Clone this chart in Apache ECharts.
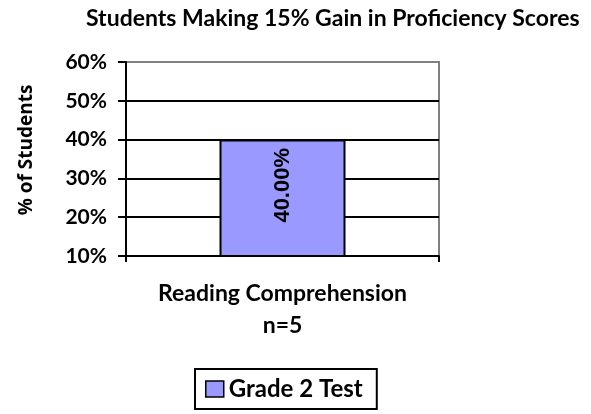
<!DOCTYPE html>
<html>
<head>
<meta charset="utf-8">
<script src="https://cdn.jsdelivr.net/npm/echarts@6/dist/echarts.min.js"></script>
<style>
html,body{margin:0;padding:0;background:#fff}
#main{width:591px;height:414px}
</style>
</head>
<body>
<div id="main"></div>
<script>
var categories=['Reading Comprehension'];
var sampleSize=['n=5'];
var seriesName='Grade 2 Test';
var values=[40];
var yTicks=[10,20,30,40,50,60];

var font='Lato';
var myChart=echarts.init(document.getElementById('main'));
var option={
	animation:false,
	title:{
		text:'Students Making 15% Gain in Proficiency Scores',
		left:81,top:2,
		textStyle:{fontFamily:font,fontWeight:'bold',fontSize:23,color:'#000'}
	},
	grid:{
		left:126,right:152,top:62,bottom:158,
		show:true,borderColor:'#808080',borderWidth:2,backgroundColor:'#fff'
	},
	legend:{
		data:[seriesName],
		left:195,top:369,
		padding:[8,14,8,10],
		itemWidth:18,itemHeight:16,itemGap:6,
		borderColor:'#000',borderWidth:2,
		icon:'rect',
		itemStyle:{borderColor:'#000',borderWidth:1.5},
		textStyle:{fontFamily:font,fontWeight:'bold',fontSize:24,color:'#000'}
	},
	xAxis:{
		type:'category',
		data:categories,
		axisLine:{lineStyle:{color:'#000',width:2}},
		axisTick:{show:true,length:6,lineStyle:{color:'#000',width:2}},
		axisLabel:{
			margin:22,
			lineHeight:32,
			fontFamily:font,fontWeight:'bold',fontSize:23,color:'#000',
			formatter:function(v,i){return v+'\n'+sampleSize[i];}
		}
	},
	yAxis:{
		type:'value',
		min:yTicks[0],max:yTicks[yTicks.length-1],interval:10,
		name:'% of Students',
		nameLocation:'middle',
		nameGap:90,
		nameTextStyle:{fontFamily:'Open Sans',fontWeight:'bold',fontSize:19,color:'#000',padding:[0,0,0,18]},
		axisLine:{show:true,lineStyle:{color:'#000',width:2}},
		axisTick:{show:true,length:8,lineStyle:{color:'#000',width:2}},
		splitLine:{show:true,lineStyle:{color:['#000','#000','#000','#000','#000','#808080'],width:2}},
		axisLabel:{
			margin:19,
			fontFamily:font,fontWeight:'bold',fontSize:21,color:'#000',
			formatter:function(v){return v+'%';}
		}
	},
	series:[{
		name:seriesName,
		type:'bar',
		data:values,
		barWidth:126,
		itemStyle:{color:'#9999FF',borderColor:'#000',borderWidth:2},
		label:{
			show:true,
			position:'inside',
			rotate:90,
			offset:[13,0],
			fontFamily:'Liberation Sans',fontWeight:'bold',fontSize:22,color:'#000',
			formatter:function(p){return p.value.toFixed(2)+'%';}
		}
	}]
};
myChart.setOption(option);
</script>
</body>
</html>
